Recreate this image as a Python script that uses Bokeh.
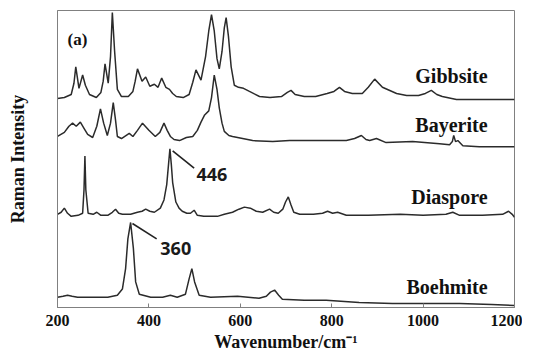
from bokeh.plotting import figure
from bokeh.models import Range1d, FixedTicker, Label
from bokeh.embed import file_html
from bokeh.resources import INLINE

# Raman spectra (wavenumber cm-1, intensity a.u. with stacking offset)
gibbsite_x = [200, 215, 230, 236, 240, 247, 255, 261, 270, 285, 295, 300, 304, 311, 316, 320, 325, 331, 340, 355,
              365, 370, 375, 385, 393, 402, 412, 420, 428, 437, 445, 452, 460, 475, 488, 496, 503, 514, 524, 531,
              537, 543, 549, 554, 560, 565, 569, 574, 580, 587, 596, 607, 620, 642, 665, 690, 703, 711, 720, 740,
              765, 790, 805, 817, 828, 845, 867, 880, 894, 911, 942, 964, 990, 1005, 1018, 1030, 1042, 1073, 1120, 1200]
gibbsite_y = [204, 205, 208, 219, 235, 214, 227, 217, 208, 205, 210, 221, 238, 219, 245, 288, 250, 213, 206, 206,
              211, 221, 233, 221, 225, 216, 218, 215, 224, 215, 213, 209, 206, 205, 208, 220, 232, 222, 245, 270,
              286, 270, 243, 233, 250, 273, 283, 265, 235, 217, 215, 214, 211, 206, 205, 206, 210, 212, 208, 206,
              206, 209, 211, 215, 211, 209, 209, 215, 223, 215, 209, 207, 207, 209, 212, 208, 206, 203, 203, 203]

bayerite_x = [200, 215, 225, 233, 241, 250, 258, 266, 277, 286, 294, 301, 309, 316, 322, 327, 331, 340, 357, 365,
              375, 386, 400, 414, 424, 433, 440, 447, 455, 467, 482, 496, 506, 514, 522, 531, 537, 543, 549, 554,
              560, 565, 575, 583, 627, 671, 708, 760, 832, 850, 865, 875, 883, 898, 919, 977, 1036, 1058, 1064,
              1067, 1071, 1076, 1087, 1123, 1200]
bayerite_y = [167, 171, 177, 180, 177, 181, 175, 169, 166, 177, 194, 180, 168, 180, 200, 183, 167, 165, 170, 167,
              173, 180, 173, 167, 171, 180, 173, 167, 164, 163, 166, 167, 173, 181, 188, 192, 205, 227, 213, 195,
              180, 172, 168, 167, 163, 162, 163, 163, 163, 165, 168, 164, 163, 165, 161, 162, 160, 159, 162,
              168, 162, 163, 158, 157, 157]

diaspore_x = [200, 208, 215, 222, 230, 245, 255, 258, 260, 262, 267, 278, 286, 295, 310, 320, 327, 334, 342, 360,
              375, 385, 393, 402, 412, 425, 433, 439, 443, 446, 449, 452, 459, 466, 473, 483, 491, 499, 506, 520,
              535, 550, 565, 583, 597, 609, 622, 635, 649, 664, 673, 683, 693, 699, 705, 711, 717, 730, 760, 780,
              791, 802, 813, 832, 880, 950, 1000, 1050, 1065, 1080, 1130, 1174, 1187, 1195, 1200]
diaspore_y = [91, 93, 97, 92, 89, 90, 92, 115, 148, 115, 92, 91, 93, 90, 90, 93, 96, 92, 91, 91,
              93, 94, 96, 94, 93, 97, 105, 120, 140, 155, 140, 122, 103, 97, 94, 92, 92, 95, 90, 89,
              89, 89, 91, 93, 96, 98, 97, 94, 93, 96, 93, 92, 96, 103, 108, 100, 93, 91, 91, 92,
              94, 92, 93, 90, 90, 91, 90, 91, 93, 90, 90, 91, 94, 91, 88]

boehmite_x = [200, 212, 222, 232, 244, 280, 310, 331, 342, 349, 354, 360, 366, 371, 379, 404, 430, 447, 462, 480,
              488, 494, 500, 510, 535, 594, 641, 657, 666, 675, 684, 692, 740, 788, 860, 933, 1000, 1080, 1150, 1200]
boehmite_y = [10, 11, 12, 11, 10, 10, 10, 12, 18, 38, 67, 83, 58, 25, 13, 10, 10, 12, 10, 13,
              28, 38, 25, 12, 10, 11, 9, 11, 15, 17, 12, 8, 7, 7, 5, 4, 4, 4, 3, 2]

names = ["Gibbsite", "Bayerite", "Diaspore", "Boehmite"]
name_y = [226, 178, 108, 20]
name_x = 1141
x_ticks = [200, 400, 600, 800, 1000, 1200]

line_col = "#2b2b2b"
frame_col = "#808080"
serif = "Liberation Serif"

p = figure(width=522, height=356, output_backend="svg", toolbar_location=None,
           x_range=Range1d(200, 1200), y_range=Range1d(0, 290),
           min_border_left=57, min_border_right=8, min_border_top=10, min_border_bottom=49)
p.background_fill_color = "white"
p.border_fill_color = "white"
p.outline_line_color = frame_col
p.outline_line_width = 1
p.xgrid.visible = False
p.ygrid.visible = False

for xs, ys in [(gibbsite_x, gibbsite_y), (bayerite_x, bayerite_y),
               (diaspore_x, diaspore_y), (boehmite_x, boehmite_y)]:
    p.line(xs, ys, line_color=line_col, line_width=1.5)

for nm, ny in zip(names, name_y):
    p.add_layout(Label(x=name_x, y=ny, text=nm, text_align="right", text_baseline="middle",
                       text_font=serif, text_font_style="bold", text_font_size="20px",
                       text_color="#111111"))

p.add_layout(Label(x=222, y=262, text="(a)", text_align="left", text_baseline="middle",
                   text_font=serif, text_font_style="bold", text_font_size="17px", text_color="#111111"))

# peak annotations
p.segment(x0=[452, 364], y0=[153, 82], x1=[499, 417], y1=[136, 67], line_color="#222222", line_width=1.6)
p.add_layout(Label(x=504, y=130, text="446", text_align="left", text_baseline="middle",
                   text_font="Open Sans", text_font_style="bold", text_font_size="18px", text_color="#1a1a1a"))
p.add_layout(Label(x=425, y=58, text="360", text_align="left", text_baseline="middle",
                   text_font="Open Sans", text_font_style="bold", text_font_size="18px", text_color="#1a1a1a"))

xa = p.xaxis[0]
xa.ticker = FixedTicker(ticks=x_ticks)
xa.minor_tick_line_color = None
xa.major_tick_in = 4
xa.major_tick_out = 0
xa.axis_line_color = frame_col
xa.major_tick_line_color = frame_col
xa.major_label_text_font = serif
xa.major_label_text_font_style = "bold"
xa.major_label_text_font_size = "16px"
xa.major_label_text_color = "#111111"
xa.major_label_standoff = 7
xa.axis_label = "Wavenumber/cm\u207b\u00b9"
xa.axis_label_text_font = serif
xa.axis_label_text_font_style = "bold"
xa.axis_label_text_font_size = "18px"
xa.axis_label_text_color = "#111111"
xa.axis_label_standoff = 3

ya = p.yaxis[0]
ya.ticker = FixedTicker(ticks=[])
ya.minor_tick_line_color = None
ya.major_tick_line_color = None
ya.axis_line_color = frame_col
ya.axis_label = "Raman Intensity"
ya.axis_label_text_font = serif
ya.axis_label_text_font_style = "bold"
ya.axis_label_text_font_size = "18px"
ya.axis_label_text_color = "#111111"
ya.axis_label_standoff = 30

open("out.html", "w").write(file_html(p, INLINE))
